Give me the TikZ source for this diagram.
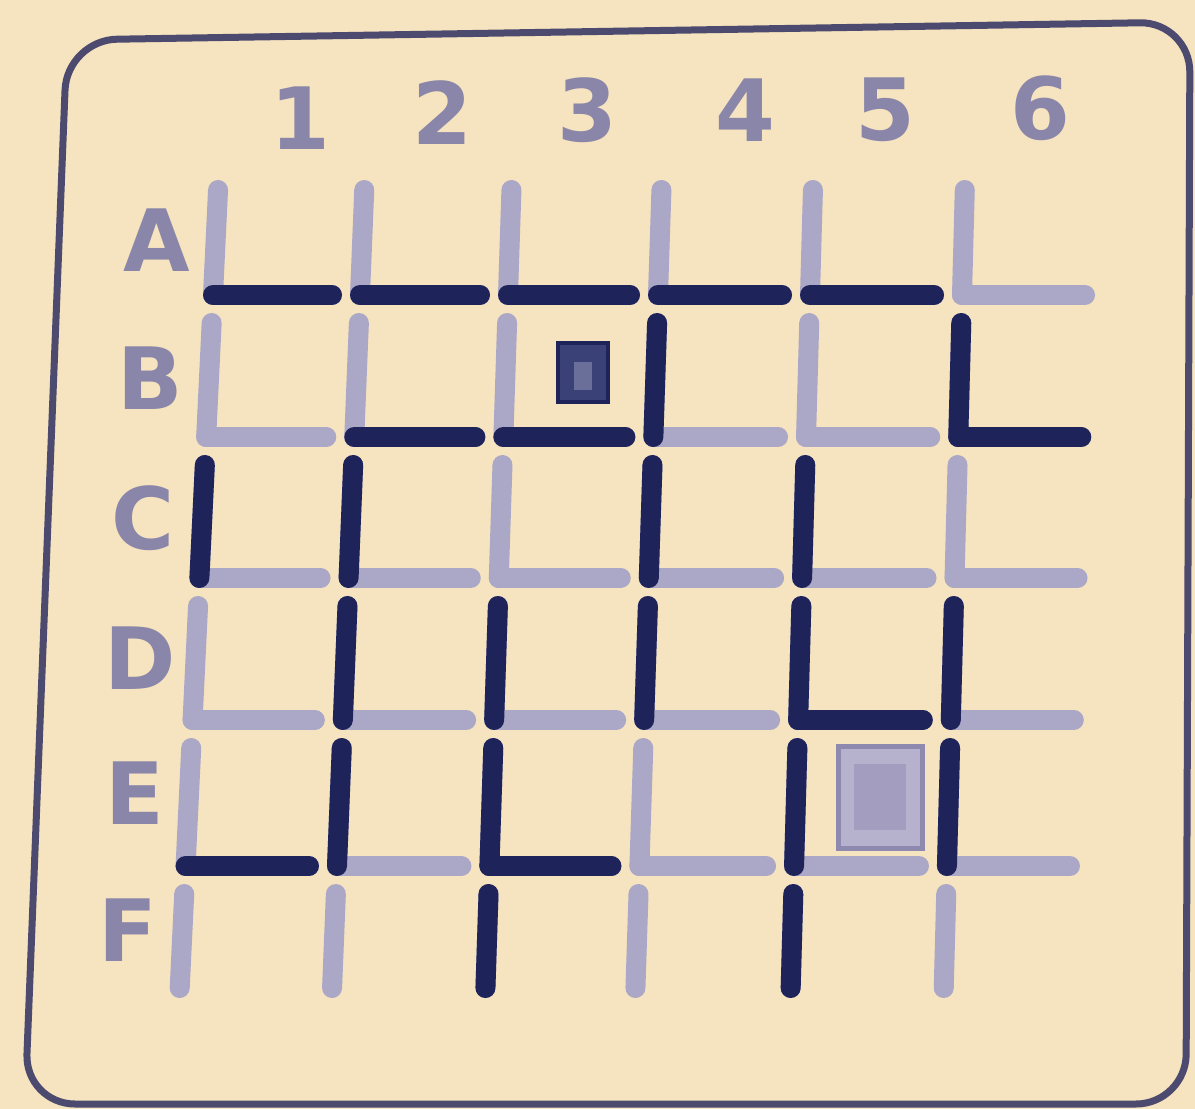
\documentclass[tikz,border=0pt]{standalone}
\usepackage{fontspec}
\setmainfont{DejaVu Sans}
\definecolor{paper}{HTML}{F6E3BF}
\definecolor{darkw}{HTML}{1E245A}
\definecolor{lightw}{HTML}{ABA7C6}
\definecolor{framec}{HTML}{4C4A6E}
\definecolor{labelc}{HTML}{8A86AA}
\definecolor{markd}{HTML}{3A4177}
\definecolor{markdi}{HTML}{6A6F99}
\definecolor{markl}{HTML}{B6B1CC}
\definecolor{markli}{HTML}{A39EC0}
\definecolor{markle}{HTML}{8E89AE}
\tikzset{
  wall/.style={line width=20pt, line cap=round},
  lw/.style={wall, draw=lightw},
  dw/.style={wall, draw=darkw},
  lbl/.style={font=\fontsize{86}{86}\selectfont\bfseries, text=labelc, inner sep=0pt},
  cardframe/.style={draw=framec, line width=7pt, rounded corners=50pt},
}
% x of column line #1 (1..7) at height #2
\newcommand\colx[2]{%
  \pgfmathsetmacro\cxt{{213,360,508,658,810,962,1085}[#1-1]}%
  \pgfmathsetmacro\cxb{{182,334,487,637,792,945,1068}[#1-1]}%
  \pgfmathsetmacro\cx{\cxt+(\cxb-\cxt)/645*(#2-295)}}
% vertical wall of cell (row #1, col #2)
\newcommand\Vw[3]{%
  \pgfmathsetmacro\vya{{190,323,465,606,748,894}[#1-1]}%
  \pgfmathsetmacro\vyb{{295,437,578,720,866,988}[#1-1]}%
  \colx{#2}{\vya}\let\vxa\cx
  \colx{#2}{\vyb}\let\vxb\cx
  \draw[#3] (\vxa,\vya) -- (\vxb,\vyb);}
% horizontal wall of cell (row #1, col #2)
\newcommand\Hw[3]{%
  \pgfmathsetmacro\hy{{295,437,578,720,866}[#1-1]}%
  \colx{#2}{\hy}\let\hxa\cx
  \pgfmathtruncatemacro\nc{#2+1}%
  \colx{\nc}{\hy}%
  \ifnum#2<6 \pgfmathsetmacro\hxb{\cx-28}\else\let\hxb\cx\fi
  \draw[#3] (\hxa,\hy) -- (\hxb,\hy);}
\begin{document}
\begin{tikzpicture}[x=1pt,y=-1pt]
  \useasboundingbox (0,0) rectangle (1195,1109);
  \fill[paper] (0,0) rectangle (1195,1109);
  \draw[cardframe] (67,40) -- (1190,22) -- (1186,1104) -- (25,1104) -- cycle;
  % light walls
  \foreach \r in {1,...,6}{\foreach \c in {1,...,6}{\Vw{\r}{\c}{lw}}}
  \foreach \r in {1,...,5}{\foreach \c in {1,...,6}{\Hw{\r}{\c}{lw}}}
  % dark walls
  \foreach \r/\c in {2/4,2/6,3/1,3/2,3/4,3/5,4/2,4/3,4/4,4/5,4/6,5/2,5/3,5/5,5/6,6/3,6/5}{\Vw{\r}{\c}{dw}}
  \foreach \r/\c in {1/1,1/2,1/3,1/4,1/5,2/2,2/3,2/6,4/5,5/1,5/3}{\Hw{\r}{\c}{dw}}
  % markers
  \draw[fill=markd, draw=darkw, line width=4pt] (558,343) rectangle (608,402);
  \fill[markdi] (574,362) rectangle (592,390);
  \draw[fill=markl, draw=markle, line width=5pt] (838,746) rectangle (922,848);
  \fill[markli] (854,764) rectangle (906,830);
  % column numbers
  \node[lbl] (n1) at (300,118) {1};
  \node[lbl] (n2) at (442,113) {2};
  \node[lbl] (n3) at (587,110) {3};
  \node[lbl] (n4) at (745,110) {4};
  \node[lbl] (n5) at (885,110) {5};
  \node[lbl] (n6) at (1040,108) {6};
  % row letters
  \node[lbl] (lA) at (157,240) {A};
  \node[lbl] (lB) at (150,378) {B};
  \node[lbl] (lC) at (143,518) {C};
  \node[lbl] (lD) at (140,658) {D};
  \node[lbl] (lE) at (135,793) {E};
  \node[lbl] (lF) at (128,930) {F};
\end{tikzpicture}
\end{document}
